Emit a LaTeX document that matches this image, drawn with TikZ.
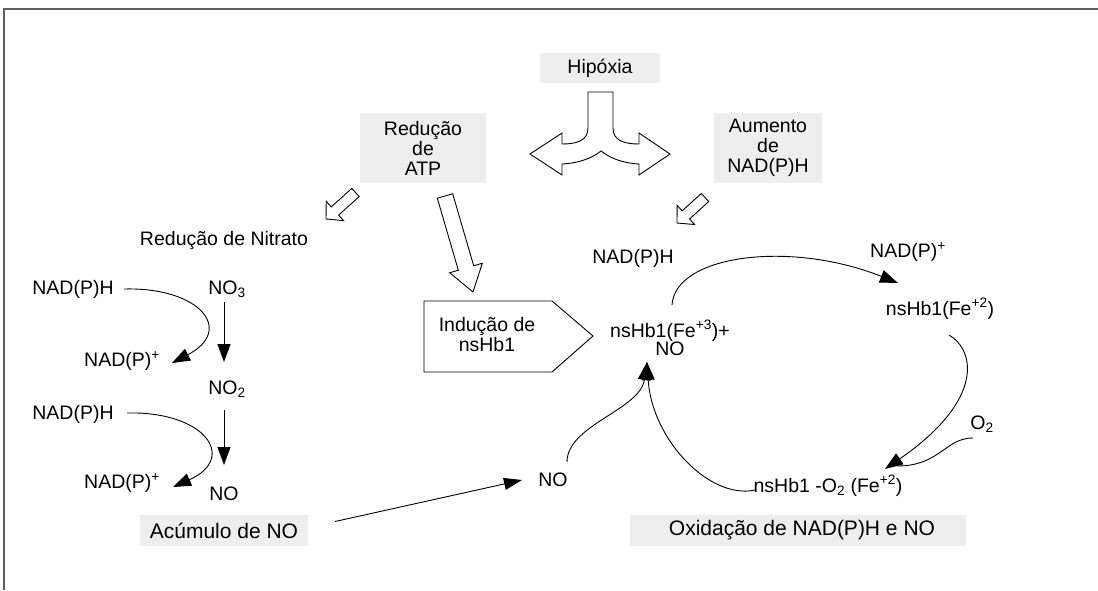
\documentclass[tikz,border=0pt]{standalone}
\usepackage{fontspec}
\setmainfont{Liberation Sans}
\usetikzlibrary{calc,arrows.meta}
\definecolor{boxgray}{RGB}{238,238,238}
\definecolor{framegray}{RGB}{95,95,95}
% #1 name, #2 tail, #3 tip, #4 half shaft width, #5 half head width, #6 head length
\newcommand\mkblockarrow[6]{%
  \coordinate (#1-t) at #2;
  \coordinate (#1-p) at #3;
  \coordinate (#1-h) at ($(#1-p)!#6!(#1-t)$);
  \draw[blk] ($(#1-t)!#4!90:(#1-p)$) -- ($(#1-h)!#4!90:(#1-p)$) -- ($(#1-h)!#5!90:(#1-p)$)
    -- (#1-p) -- ($(#1-h)!#5!-90:(#1-p)$) -- ($(#1-h)!#4!-90:(#1-p)$)
    -- ($(#1-t)!#4!-90:(#1-p)$) -- cycle;}
\begin{document}
\begin{tikzpicture}[x=1pt,y=-1pt,
  txt/.style={inner sep=0pt, align=center, font=\fontsize{19.5}{20}\selectfont},
  graybox/.style={fill=boxgray, draw=none, inner sep=0pt, align=center,
     font=\fontsize{19.5}{20}\selectfont},
  bigtxt/.style={font=\fontsize{21}{22}\selectfont},
  conn/.style={line width=0.9pt, black},
  arr/.style={conn, -{Triangle[length=18pt,width=13pt]}},
  blk/.style={line width=0.9pt, black, fill=white, line join=miter},
]
\useasboundingbox (0,0) rectangle (1098,590);
\fill[white] (0,0) rectangle (1098,590);
% frame
\draw[framegray, line width=1.3pt] (4,590) -- (4,9) -- (1098,9);

% gray boxes
\node[graybox, minimum width=120pt, minimum height=30pt] (hip) at (600,68) {Hipóxia};
\node[graybox, minimum width=126pt, minimum height=70pt] (atp) at (423,148) {Redução\\de\\ATP};
\node[graybox, minimum width=108pt, minimum height=70pt] (aum) at (768,148) {Aumento\\de\\NAD(P)H};
\node[graybox, bigtxt, minimum width=168pt, minimum height=31pt] (acum) at (224,530.5) {Acúmulo de NO};
\node[graybox, bigtxt, minimum width=336pt, minimum height=31pt] (oxid) at (798,530.5) {\hspace*{8pt}Oxidação de NAD(P)H e NO};

% branching block arrow from Hipoxia
\draw[blk] (588,92) -- (588,128) .. controls (588,141) and (576,144) .. (562,144)
  -- (562,133) -- (530,154) -- (562,175) -- (562,164)
  .. controls (580,163) and (592,158) .. (601,151)
  .. controls (610,158) and (622,163) .. (639,164)
  -- (639,175) -- (670,154) -- (639,133) -- (639,144)
  .. controls (625,144) and (613,141) .. (613,128) -- (613,92) -- cycle;

% small / large block arrows
\mkblockarrow{ba1}{(355.5,192.5)}{(326,219)}{5.5pt}{13pt}{12pt}
\mkblockarrow{ba2}{(445,196)}{(473,292)}{8pt}{17pt}{25pt}
\mkblockarrow{ba3}{(705,197.5)}{(677,223)}{5.5pt}{13pt}{12pt}

% Induction pentagon
\draw[blk] (424,301) -- (552,301) -- (593,336) -- (552,372) -- (424,372) -- cycle;
\node[txt] (ind) at (487,335) {Indução de\\nsHb1};

% left column
\node[txt] (nitr) at (224,240) {Redução de Nitrato};
\node[txt] (nadh1) at (73,289) {NAD(P)H};
\node[txt] (no3) at (227,289) {NO\textsubscript{3}};
\node[txt] (nadp1) at (122,361) {NAD(P)\textsuperscript{+}};
\node[txt] (no2) at (227,389) {NO\textsubscript{2}};
\node[txt] (nadh2) at (73,414) {NAD(P)H};
\node[txt] (nadp2) at (122,483) {NAD(P)\textsuperscript{+}};
\node[txt] (nol) at (224,494) {NO};

\draw[arr] ($(nadh1)+(51,0)$) .. controls (200,287) and (235,330) .. ($(nadp1)+(50,2)$);
\draw[arr] ($(nadh2)+(54,-1)$) .. controls (205,411) and (238,458) .. ($(nadp2)+(51,4)$);
\draw[arr] ($(no3)+(-3,13)$) -- ($(no2)+(-3,-27)$);
\draw[arr] ($(no2)+(-3,21)$) -- ($(nol)+(0,-29)$);

% middle
\node[txt] (nom) at (553,480) {NO};
\draw[conn, -{Triangle[length=18pt,width=12pt]}] ($(acum)+(111,-9)$) -- ($(nom)+(-31,0)$);

% right cycle
\node[txt] (nadhr) at (633,258) {NAD(P)H};
\node[txt, font=\fontsize{19.5}{17}\selectfont] (fe3) at (670,338) {nsHb1(Fe\textsuperscript{+3})+\\NO};
\node[txt] (nadpr) at (908,252) {NAD(P)\textsuperscript{+}};
\node[txt] (fe2) at (940,309) {nsHb1(Fe\textsuperscript{+2})};
\node[txt] (o2) at (982,424) {O\textsubscript{2}};
\node[txt] (o2fe) at (828,486) {nsHb1 -O\textsubscript{2} (Fe\textsuperscript{+2})};

\draw[arr] ($(fe3)+(2,-33)$) .. controls (675,255) and (790,240) .. ($(nadpr)+(-10,31)$);
\draw[arr] ($(fe2)+(9,26)$) .. controls (975,350) and (985,400) .. ($(o2fe)+(57,-17)$);
\draw[conn] ($(o2)+(-9,14)$) .. controls (945,438) and (940,466) .. ($(o2fe)+(69,-20)$);
\draw[arr] ($(o2fe)+(-73,4)$) .. controls (710,500) and (652,440) .. ($(fe3)+(-23,24)$);
\draw[arr] ($(nom)+(14,-18)$) .. controls (567,425) and (640,410) .. ($(fe3)+(-23,24)$);
\end{tikzpicture}
\end{document}
